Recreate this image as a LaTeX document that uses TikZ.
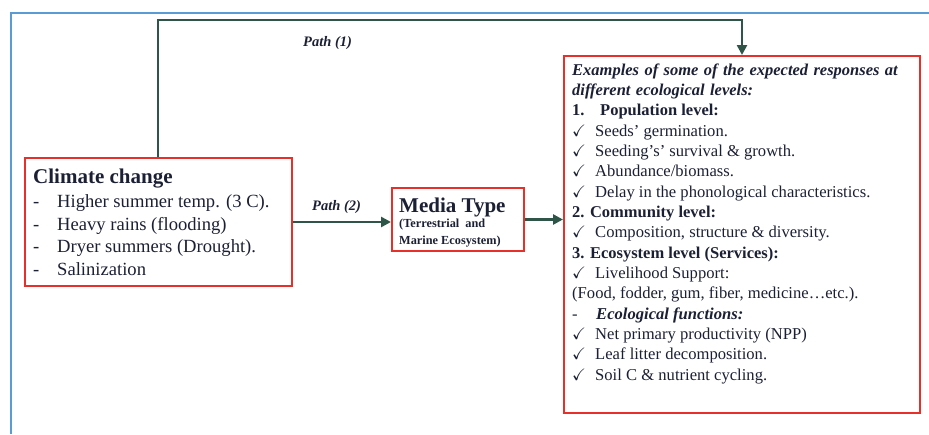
\documentclass[tikz,border=0pt]{standalone}
\usepackage{amssymb}
\usepackage{fontspec}
\setmainfont{Liberation Serif}
\usetikzlibrary{arrows.meta}
\definecolor{boxred}{RGB}{232,48,42}
\definecolor{arrowgreen}{RGB}{46,85,72}
\definecolor{frameblue}{RGB}{91,155,213}
\definecolor{textcol}{RGB}{28,32,52}
\newcommand{\ck}{\makebox[23pt][l]{$\checkmark$}}
\newcommand{\dsh}{\makebox[24pt][l]{-}}
\newcommand{\widesp}{\spaceskip=5.4pt plus 1pt\relax}
\begin{document}
\begin{tikzpicture}[x=1pt,y=-1pt,
  box/.style={draw=boxred, line width=2pt, anchor=north west, inner sep=0pt},
  conn/.style={draw=arrowgreen, line width=2.8pt, -{Triangle[length=10pt,width=10pt]}},
  pathlabel/.style={anchor=base west, inner sep=0pt, text=textcol, font=\fontsize{14.5}{16}\selectfont\bfseries\itshape},
  cline/.style={anchor=base west, inner sep=0pt, text=textcol, font=\fontsize{18.6}{20}\selectfont},
  rline/.style={anchor=base west, inner sep=0pt, text=textcol, font=\fontsize{16.6}{18}\selectfont},
  rhead/.style={rline, font=\fontsize{16.5}{18}\selectfont\bfseries\itshape},
  rbold/.style={rline, font=\fontsize{16.5}{18}\selectfont\bfseries},
  mline/.style={anchor=base west, inner sep=0pt, text=textcol, font=\fontsize{12.3}{13}\selectfont\bfseries}]
\useasboundingbox (0,0) rectangle (929,434);
\draw[frameblue, line width=2pt] (11,434) -- (11,13) -- (929,13);

% boxes
\node[box, minimum width=267pt, minimum height=128pt] (climate) at (24,157) {};
\node[box, minimum width=132pt, minimum height=63pt] (media) at (391,187) {};
\node[box, minimum width=356pt, minimum height=357pt] (resp) at (563,55) {};

% connectors
\draw[conn] ([xshift=134pt]climate.north west) -- ++(0,-137) -| ([xshift=179pt]resp.north west);
\draw[conn] (climate.east) -- (media.west |- climate.east);
\draw[conn] (media.east) -- (resp.west |- media.east);

\node[pathlabel] (p1) at (303,46) {Path (1)};
\node[pathlabel] (p2) at (312,210) {Path (2)};

% climate change text
\node[cline, font=\fontsize{21}{22}\selectfont\bfseries] (c0) at (33,183) {Climate change};
\node[cline] (c1) at (33,207) {\dsh Higher summer temp. (3 C).};
\node[cline] (c2) at (33,230) {\dsh Heavy rains (flooding)};
\node[cline] (c3) at (33,252) {\dsh Dryer summers (Drought).};
\node[cline] (c4) at (33,275) {\dsh Salinization};

% media text
\node[mline, font=\fontsize{21}{22}\selectfont\bfseries] (m0) at (399,212) {Media Type};
\node[mline] (m1) at (399,227) {(Terrestrial\ \ and};
\node[mline] (m2) at (399,244) {Marine Ecosystem)};

% responses text
\node[rhead] (r1) at (572,75) {\widesp Examples of some of the expected responses at};
\node[rhead] (r2) at (572,95.3) {\widesp different ecological levels:};
\node[rbold] (r3) at (572,115.7) {\makebox[28pt][l]{1.}Population level:};
\node[rline] (r4) at (572,136) {\ck Seeds’ germination.};
\node[rline] (r5) at (572,156.3) {\ck Seeding's’ survival \& growth.};
\node[rline] (r6) at (572,176.7) {\ck Abundance/biomass.};
\node[rline] (r7) at (572,197) {\ck Delay in the phonological characteristics.};
\node[rbold] (r8) at (572,217.3) {2. Community level:};
\node[rline] (r9) at (572,237.7) {\ck Composition, structure \& diversity.};
\node[rbold] (r10) at (572,258) {3. Ecosystem level (Services):};
\node[rline] (r11) at (572,278.3) {\ck Livelihood Support:};
\node[rline] (r12) at (572,298.7) {(Food, fodder, gum, fiber, medicine…etc.).};
\node[rline] (r13) at (572,319) {\dsh\textbf{\textit{Ecological functions:}}};
\node[rline] (r14) at (572,339.3) {\ck Net primary productivity (NPP)};
\node[rline] (r15) at (572,359.7) {\ck Leaf litter decomposition.};
\node[rline] (r16) at (572,380) {\ck Soil C \& nutrient cycling.};
\end{tikzpicture}
\end{document}
